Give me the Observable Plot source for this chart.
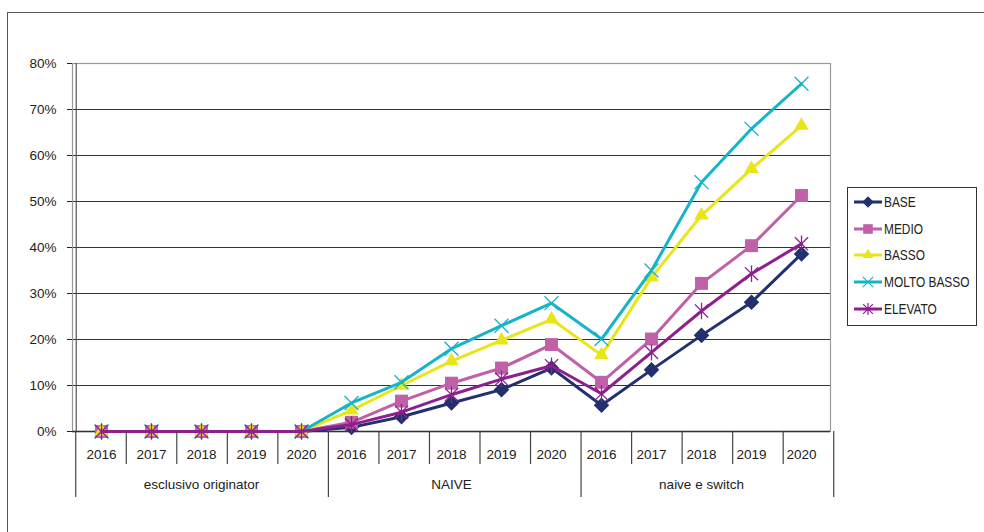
<!DOCTYPE html>
<html>
<head>
<meta charset="utf-8">
<script src="https://cdn.jsdelivr.net/npm/d3@7"></script>
<script src="https://cdn.jsdelivr.net/npm/@observablehq/plot@0.6"></script>
<style>
  html, body { margin: 0; padding: 0; background: #fff; overflow: hidden; }
  #wrap { position: relative; width: 984px; height: 532px; overflow: hidden; font-family: "Liberation Sans", Arial, sans-serif; }
  #border { position: absolute; left: 7px; top: 12px; width: 1100px; height: 700px; border: 1px solid #555; }
  #chart { position: absolute; left: 0; top: 0; }
  #legend { position: absolute; left: 847px; top: 187px; width: 130px; height: 139px; box-sizing: border-box;
            border: 1px solid #333; background: #fff; padding: 1px 0 0 5px; }
  .row { display: flex; align-items: center; height: 26.6px; }
  .row svg { flex: none; }
  .row span { display: inline-block; margin-left: 1px; font-family: "Liberation Sans", Arial, sans-serif;
              font-size: 14.5px; color: #222; white-space: nowrap;
              transform: scaleX(0.82); transform-origin: 0 50%; }
</style>
</head>
<body>
<div id="wrap">
  <div id="border"></div>
  <div id="chart"></div>
  <div id="legend"></div>
</div>
<script>
// Categories along the x axis: three groups of five years each
const groups = ["esclusivo originator", "NAIVE", "naive e switch"];
const years = ["2016", "2017", "2018", "2019", "2020"];

// Y axis ticks (percent)
const yTicks = [0, 10, 20, 30, 40, 50, 60, 70, 80];

// Series names and colours
const seriesNames = ["BASE", "MEDIO", "BASSO", "MOLTO BASSO", "ELEVATO"];
const seriesColors = ["#22306e", "#c060a8", "#e8e618", "#16b4c8", "#8e1f8e"];

// Series values (percent), 15 points each: originator 2016-2020, NAIVE 2016-2020, naive e switch 2016-2020
const base    = [0, 0, 0, 0, 0,  0.9,  3.2,  6.2,  9.1, 13.8,   5.7, 13.4, 20.9, 28.1, 38.6];
const medio   = [0, 0, 0, 0, 0,  2.0,  6.6, 10.5, 13.8, 18.9,  10.7, 20.1, 32.2, 40.4, 51.3];
const basso   = [0, 0, 0, 0, 0,  4.6, 10.0, 15.3, 19.8, 24.4,  16.6, 33.5, 47.0, 57.1, 66.5];
const molto   = [0, 0, 0, 0, 0,  6.2, 10.7, 18.0, 23.0, 27.9,  20.1, 35.0, 54.2, 65.8, 75.6];
const elevato = [0, 0, 0, 0, 0,  1.5,  4.2,  8.0, 11.4, 14.3,   8.2, 17.2, 26.2, 34.3, 40.8];
const seriesValues = [base, medio, basso, molto, elevato];

// Custom marker shapes
const diamond = {
  draw(ctx, size) {
    const r = Math.sqrt(size / 2);
    ctx.moveTo(0, -r); ctx.lineTo(r, 0); ctx.lineTo(0, r); ctx.lineTo(-r, 0); ctx.closePath();
  }
};
const starX = {
  draw(ctx, size) {
    const r = Math.sqrt(size) * 0.6;
    ctx.moveTo(-r, -r); ctx.lineTo(r, r);
    ctx.moveTo(r, -r); ctx.lineTo(-r, r);
    ctx.moveTo(0, -r * 1.25); ctx.lineTo(0, r * 1.25);
  }
};
const markers = [
  {symbol: diamond, r: 6.2, filled: true},
  {symbol: "square", r: 7.3, filled: true},
  {symbol: "triangle", r: 5.4, filled: true},
  {symbol: "times", r: 6.4, filled: false},
  {symbol: starX, r: 6.2, filled: false}
];

const keys = groups.flatMap(g => years.map(y => g + "|" + y));
const rows = seriesNames.map((name, s) =>
  keys.map((k, i) => ({series: name, key: k, value: seriesValues[s][i]})));

const W = 984, H = 532;
const mL = 72, mR = W - 830, mT = 63, mB = H - 431;
const step = (W - mL - mR) / keys.length;

const marks = [
  Plot.ruleY(yTicks, {stroke: "#333", strokeWidth: 1}),
  Plot.frame({stroke: "#999", strokeWidth: 1.2}),
  Plot.ruleX([keys[0]], {dx: -step / 2, stroke: "#555", strokeWidth: 1.2}),
  Plot.ruleY([0], {stroke: "#333", strokeWidth: 1.5}),
  Plot.text(groups, {x: g => g + "|" + years[2], text: d => d, frameAnchor: "bottom", dy: 57, fill: "#222"})
];
rows.forEach((data, s) => {
  const m = markers[s];
  marks.push(Plot.line(data, {x: "key", y: "value", stroke: seriesColors[s], strokeWidth: 3}));
  marks.push(Plot.dot(data, {
    x: "key", y: "value", symbol: m.symbol, r: m.r,
    fill: m.filled ? seriesColors[s] : "none",
    stroke: m.filled ? "none" : seriesColors[s],
    strokeWidth: m.filled ? 0 : 1.3
  }));
});

const chart = Plot.plot({
  width: W, height: H,
  marginLeft: mL, marginRight: mR, marginTop: mT, marginBottom: mB,
  style: {fontFamily: "Liberation Sans, Arial, sans-serif", fontSize: "13.5px", color: "#222", background: "transparent"},
  x: {type: "point", domain: keys, padding: 0.5, tickSize: 0, tickPadding: 18,
      tickFormat: k => k.split("|")[1], label: null},
  y: {domain: [0, 80], ticks: yTicks, tickSize: 5, tickPadding: 11,
      tickFormat: d => d + "%", label: null},
  marks
});
document.getElementById("chart").appendChild(chart);

// Category separators under the x axis: short between years, long between groups
const xs = chart.scale("x"), ys = chart.scale("y");
const left = xs.apply(keys[0]) - step / 2;
const yBase = ys.apply(0);
const sep = d3.select(chart).append("g").attr("stroke", "#444").attr("stroke-width", 1.2);
for (let i = 0; i <= keys.length; i++) {
  const xp = left + i * step;
  sep.append("line").attr("x1", xp).attr("x2", xp).attr("y1", yBase)
    .attr("y2", yBase + (i % years.length === 0 ? 66 : 33));
}

// Legend
const legend = d3.select("#legend");
seriesNames.forEach((name, s) => {
  const m = markers[s];
  const row = legend.append("div").attr("class", "row");
  const svg = row.append("svg").attr("width", 30).attr("height", 20);
  svg.append("line").attr("x1", 1).attr("x2", 29).attr("y1", 10).attr("y2", 10)
    .attr("stroke", seriesColors[s]).attr("stroke-width", 3);
  const type = typeof m.symbol === "string"
    ? {square: d3.symbolSquare, triangle: d3.symbolTriangle, times: d3.symbolTimes}[m.symbol]
    : m.symbol;
  const size = Math.PI * m.r * m.r * 0.55;
  svg.append("path").attr("transform", "translate(15,10)")
    .attr("d", d3.symbol(type, size)())
    .attr("fill", m.filled ? seriesColors[s] : "none")
    .attr("stroke", m.filled ? "none" : seriesColors[s])
    .attr("stroke-width", 1.2);
  row.append("span").text(name);
});
</script>
</body>
</html>
